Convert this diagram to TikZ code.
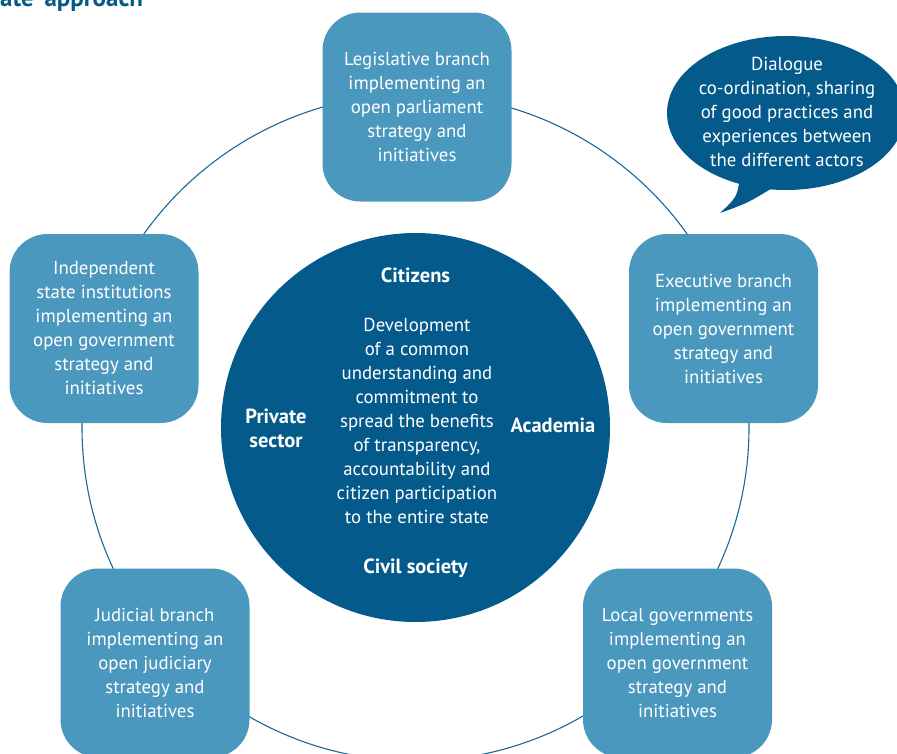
\documentclass[tikz,border=0pt]{standalone}
\usepackage{fontspec}
\setmainfont{PT Sans}
\usetikzlibrary{shapes.geometric}
\definecolor{boxblue}{HTML}{4B98BF}
\definecolor{deepblue}{HTML}{045A8B}
\definecolor{ringblue}{HTML}{1A6898}
\tikzset{
  branchbox/.style={fill=boxblue, rounded corners=38pt, minimum width=189pt,
    minimum height=189pt, inner sep=0pt, text=white, align=center,
    font=\fontsize{18.8}{24}\selectfont},
  hubword/.style={text=white, align=center, font=\bfseries\fontsize{20.5}{24}\selectfont},
  hubtext/.style={text=white, align=center, font=\fontsize{18.8}{24}\selectfont},
}
\begin{document}
\begin{tikzpicture}[x=1pt,y=-1pt]
    \useasboundingbox (0,0) rectangle (897,753);
    \clip (0,0) rectangle (897,753);
    \node[anchor=base west, text=deepblue, inner sep=0pt,
      font=\bfseries\fontsize{25}{28}\selectfont] (title) at (0,6) {ate’ approach};
    % ring joining the actors
    \draw[ringblue, line width=1.1pt] (415.5,427.5) circle (333.5pt);
    \node[circle, fill=deepblue, minimum size=389pt, inner sep=0pt] (hub) at (415.5,427.5) {};
    \node[hubword] (citizens) at (415.5,275) {Citizens};
    \node[hubtext] (common) at (417,421) {Development\\ of a common\\ understanding and\\ commitment to\\
      spread the benefits\\ of transparency,\\ accountability and\\ citizen participation\\ to the entire state};
    \node[hubword] (private) at (276,428) {Private\\ sector};
    \node[hubword] (academia) at (553,425) {Academia};
    \node[hubword] (civil) at (415.5,568) {Civil society};
    % the five branches
    \node[branchbox] (legislative) at (417,107) {Legislative branch\\ implementing an\\ open parliament\\ strategy and\\ initiatives};
    \node[branchbox] (independent) at (104,328.5) {Independent\\ state institutions\\ implementing an\\ open government\\ strategy and\\ initiatives};
    \node[branchbox] (executive) at (723.5,328.5) {Executive branch\\ implementing an\\ open government\\ strategy and\\ initiatives};
    \node[branchbox] (judicial) at (155,663) {Judicial branch\\ implementing an\\ open judiciary\\ strategy and\\ initiatives};
    \node[branchbox] (local) at (677.5,663) {Local governments\\ implementing an\\ open government\\ strategy and\\ initiatives};
    % speech bubble
    \node[ellipse, fill=deepblue, minimum width=238pt, minimum height=154pt, inner sep=0pt] (bubble) at (786,113) {};
    \fill[deepblue] (740,172) .. controls (738,196) .. (720,213) .. controls (748,203) .. (782,182) -- cycle;
    \node[hubtext] (dialogue) at (787,112) {Dialogue\\ co-ordination, sharing\\ of good practices and\\ experiences between\\ the different actors};
\end{tikzpicture}
\end{document}
